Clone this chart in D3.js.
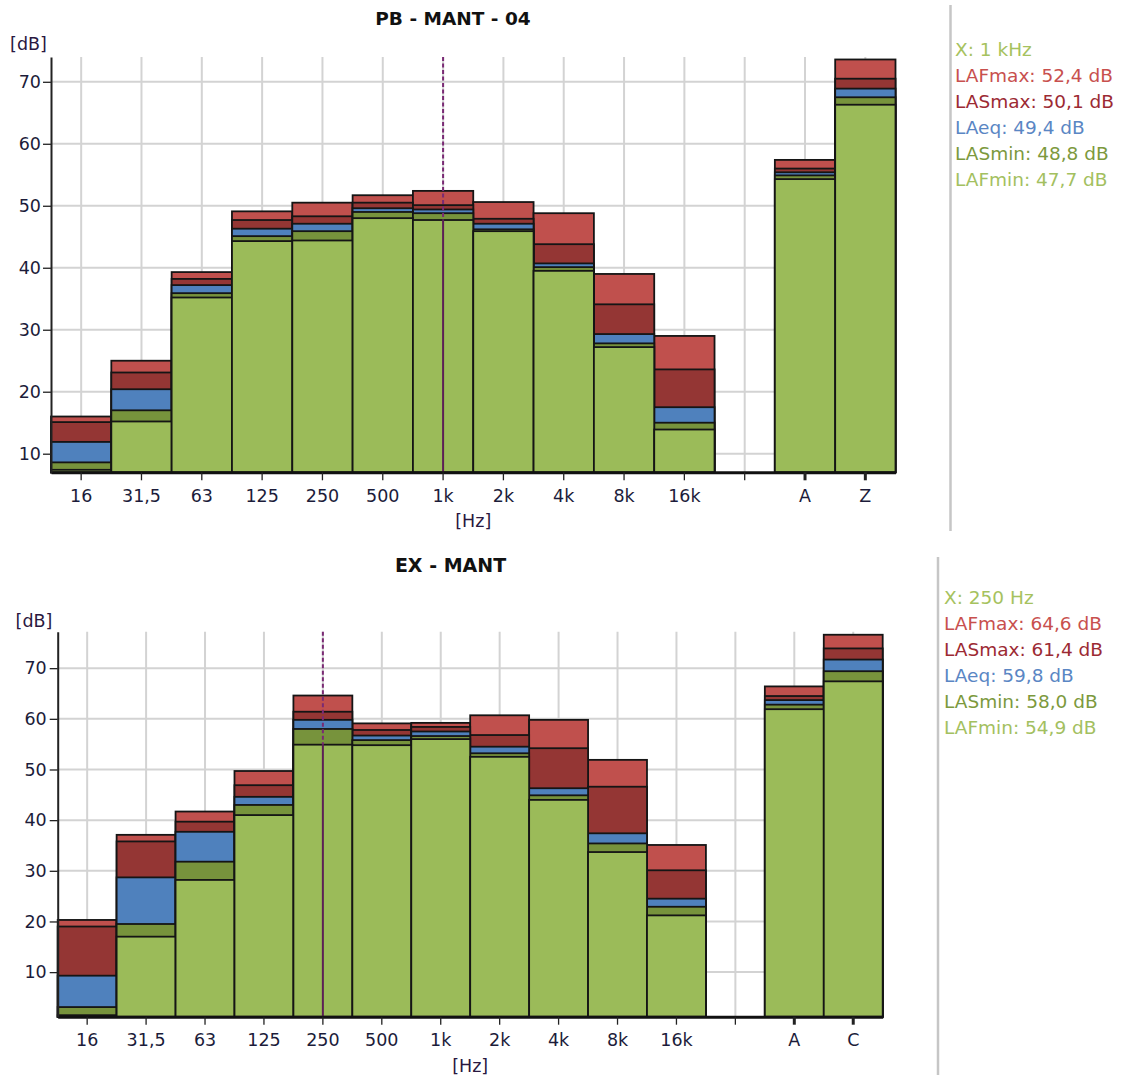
<!DOCTYPE html>
<html>
<head>
<meta charset="utf-8">
<script src="https://cdn.jsdelivr.net/npm/d3@7"></script>
<style>
  html, body { margin: 0; padding: 0; background: #ffffff; }
  svg { display: block; font-family: "DejaVu Sans", Verdana, sans-serif; }
</style>
</head>
<body>
<svg id="chart" width="1121" height="1079"></svg>
<script>
// Measured levels per octave band plus the weighted totals, in dB.
// Series are drawn back to front: LAFmax, LASmax, LAeq, LASmin, LAFmin.
const seriesNames = ["LAFmax", "LASmax", "LAeq", "LASmin", "LAFmin"];
const barColors   = ["#c0504d", "#943634", "#4f81bd", "#77933c", "#9bbb59"];
const legendColors = ["#c8504e", "#9c2a33", "#5a86c4", "#7c993d", "#a3c060"];
const cursorColor = "#a6c25e";

const yTicks = [10, 20, 30, 40, 50, 60, 70];

// Panel 1: PB - MANT - 04
const pbCategories = ["16", "31,5", "63", "125", "250", "500", "1k", "2k", "4k", "8k", "16k", "", "A", "Z"];
const pbLAFmax = [16.0, 25.0, 39.3, 49.1, 50.5, 51.7, 52.4, 50.6, 48.8, 39.0, 29.0, null, 57.4, 73.6];
const pbLASmax = [15.1, 23.1, 38.2, 47.7, 48.3, 50.5, 50.1, 47.9, 43.8, 34.1, 23.6, null, 56.0, 70.5];
const pbLAeq   = [11.9, 20.4, 37.2, 46.3, 47.1, 49.6, 49.4, 47.1, 40.7, 29.3, 17.5, null, 55.4, 68.9];
const pbLASmin = [ 8.6, 17.0, 35.9, 45.1, 45.9, 49.0, 48.8, 46.2, 40.1, 27.8, 15.0, null, 54.9, 67.5];
const pbLAFmin = [ 7.4, 15.2, 35.2, 44.3, 44.4, 48.0, 47.7, 45.9, 39.5, 27.2, 13.9, null, 54.3, 66.3];
const pbYRange = [7.0, 74.0];
const pbCursor = "1k";

// Panel 2: EX - MANT
const exCategories = ["16", "31,5", "63", "125", "250", "500", "1k", "2k", "4k", "8k", "16k", "", "A", "C"];
const exLAFmax = [20.3, 37.1, 41.7, 49.7, 64.6, 59.1, 59.2, 60.7, 59.8, 51.9, 35.1, null, 66.4, 76.6];
const exLASmax = [19.0, 35.8, 39.7, 46.9, 61.4, 57.8, 58.4, 56.8, 54.2, 46.6, 30.1, null, 64.5, 73.9];
const exLAeq   = [ 9.3, 28.7, 37.7, 44.6, 59.8, 56.7, 57.5, 54.5, 46.3, 37.4, 24.5, null, 63.7, 71.7];
const exLASmin = [ 3.1, 19.5, 31.8, 43.0, 58.0, 55.8, 56.6, 53.2, 44.9, 35.4, 22.9, null, 62.8, 69.4];
const exLAFmin = [ 1.5, 17.0, 28.2, 41.0, 54.9, 54.8, 56.0, 52.5, 44.0, 33.7, 21.2, null, 61.9, 67.4];
const exYRange = [1.2, 77.2];
const exCursor = "250";

const svg = d3.select("#chart");
const fmt = v => v.toFixed(1).replace(".", ",");
const hzLabel = c => c.endsWith("k") ? c.slice(0, -1) + " kHz" : c + " Hz";

const tickFont = "17.5px";

function drawPanel(cfg) {
  const g = svg.append("g");
  const n = cfg.categories.length;
  const x = d3.scaleBand().domain(d3.range(n)).range([cfg.left, cfg.right]).padding(0);
  const y = d3.scaleLinear().domain(cfg.yRange).range([cfg.bottom, cfg.top]);
  const bw = x.bandwidth();

  // grid
  g.append("g").selectAll("line").data(yTicks).join("line")
    .attr("x1", cfg.left).attr("x2", cfg.right)
    .attr("y1", d => y(d)).attr("y2", d => y(d))
    .attr("stroke", "#d3d3d3").attr("stroke-width", 2);
  g.append("g").selectAll("line").data(d3.range(n)).join("line")
    .attr("x1", i => x(i) + bw / 2).attr("x2", i => x(i) + bw / 2)
    .attr("y1", cfg.top).attr("y2", cfg.bottom)
    .attr("stroke", "#d3d3d3").attr("stroke-width", 2);

  // overlapping bars, tallest series behind
  cfg.series.forEach((vals, s) => {
    g.append("g").selectAll("rect")
      .data(vals.map((v, i) => ({ v, i })).filter(d => d.v != null))
      .join("rect")
      .attr("x", d => x(d.i))
      .attr("width", bw)
      .attr("y", d => y(d.v))
      .attr("height", d => cfg.bottom - y(d.v))
      .attr("fill", barColors[s])
      .attr("stroke", "#151515")
      .attr("stroke-width", 1.8);
  });

  // cursor line at the selected band
  const ci = cfg.categories.indexOf(cfg.cursor);
  const cx = x(ci) + bw / 2;
  const yMin = y(cfg.series[4][ci]);
  g.append("line").attr("x1", cx).attr("x2", cx)
    .attr("y1", cfg.top).attr("y2", yMin)
    .attr("stroke", "#7a2a74").attr("stroke-width", 2)
    .attr("stroke-dasharray", "4,2.5");
  g.append("line").attr("x1", cx).attr("x2", cx)
    .attr("y1", yMin).attr("y2", cfg.bottom)
    .attr("stroke", "#5c2055").attr("stroke-width", 2);

  // axes
  const xAxis = g.append("g").attr("transform", `translate(0,${cfg.bottom})`)
    .call(d3.axisBottom(x).tickSizeInner(8).tickSizeOuter(0).tickPadding(9)
      .tickFormat(i => cfg.categories[i]));
  xAxis.select(".domain").attr("stroke", "#111").attr("stroke-width", 3);
  xAxis.selectAll(".tick line").attr("stroke", "#222")
    .attr("stroke-width", i => i >= n - 2 ? 3 : 1.3);
  xAxis.selectAll(".tick text").attr("fill", "#1c1c3a")
    .style("font-size", tickFont).style("font-family", "DejaVu Sans");

  const yAxis = g.append("g").attr("transform", `translate(${cfg.left},0)`)
    .call(d3.axisLeft(y).tickValues(yTicks).tickSizeInner(8).tickSizeOuter(0)
      .tickPadding(cfg.yPad));
  yAxis.select(".domain").attr("stroke", "#222").attr("stroke-width", 2);
  yAxis.selectAll(".tick line").attr("stroke", "#222").attr("stroke-width", 1.3);
  yAxis.selectAll(".tick text").attr("fill", "#1c1c3a")
    .style("font-size", tickFont).style("font-family", "DejaVu Sans");

  // titles and units
  g.append("text").attr("x", cfg.titleX).attr("y", cfg.titleY)
    .attr("text-anchor", "middle").attr("dominant-baseline", "central")
    .attr("font-weight", "bold").attr("font-size", cfg.titleSize).attr("fill", "#111")
    .text(cfg.title);
  g.append("text").attr("x", cfg.dbX).attr("y", cfg.dbY)
    .attr("text-anchor", "middle").attr("dominant-baseline", "central")
    .attr("font-size", 17.5).attr("fill", "#2a1840").text("[dB]");
  g.append("text").attr("x", (cfg.left + cfg.right) / 2).attr("y", cfg.hzY)
    .attr("text-anchor", "middle").attr("dominant-baseline", "central")
    .attr("font-size", 17.5).attr("fill", "#2a1840").text("[Hz]");

  // separator
  g.append("line").attr("x1", cfg.sepX).attr("x2", cfg.sepX)
    .attr("y1", cfg.sepY[0]).attr("y2", cfg.sepY[1])
    .attr("stroke", "#c6c6c6").attr("stroke-width", 2.5);

  // readout for the cursor band
  const rows = [{ t: "X: " + hzLabel(cfg.cursor), c: cursorColor }]
    .concat(seriesNames.map((s, k) => ({
      t: `${s}: ${fmt(cfg.series[k][ci])} dB`, c: legendColors[k]
    })));
  g.append("g").selectAll("text").data(rows).join("text")
    .attr("x", cfg.legX).attr("y", (d, k) => cfg.legY + k * 26)
    .attr("dominant-baseline", "central")
    .attr("font-size", 18.5).attr("fill", d => d.c)
    .text(d => d.t);
}

drawPanel({
  categories: pbCategories,
  series: [pbLAFmax, pbLASmax, pbLAeq, pbLASmin, pbLAFmin],
  yRange: pbYRange, cursor: pbCursor, title: "PB - MANT - 04", titleSize: 18.5,
  left: 51, right: 895.5, top: 57, bottom: 472.3, yPad: 2,
  titleX: 453, titleY: 18.5, dbX: 28.5, dbY: 44, hzY: 521,
  sepX: 950.5, sepY: [5, 531], legX: 955, legY: 49
});

drawPanel({
  categories: exCategories,
  series: [exLAFmax, exLASmax, exLAeq, exLASmin, exLAFmin],
  yRange: exYRange, cursor: exCursor, title: "EX - MANT", titleSize: 19,
  left: 57.7, right: 882.7, top: 631.7, bottom: 1016.7, yPad: 3,
  titleX: 450.5, titleY: 565, dbX: 34, dbY: 621, hzY: 1066,
  sepX: 938, sepY: [557, 1075], legX: 944, legY: 597
});
</script>
</body>
</html>
